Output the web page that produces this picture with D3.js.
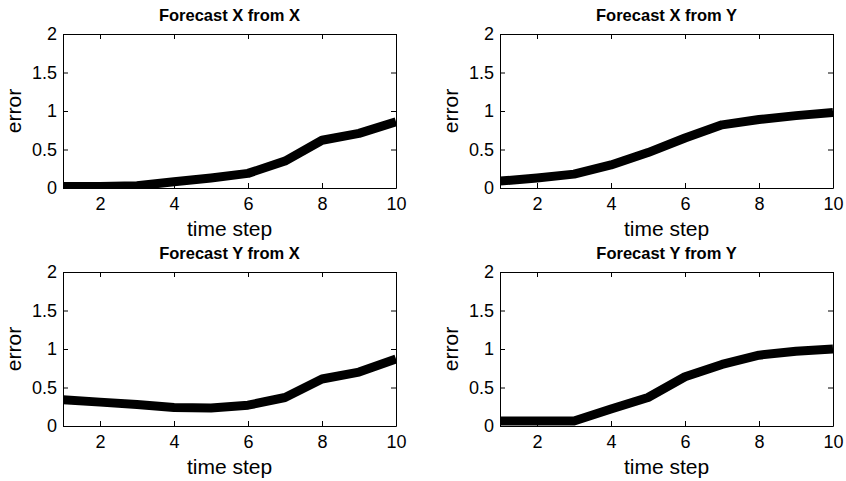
<!DOCTYPE html>
<html>
<head>
<meta charset="utf-8">
<script src="https://cdn.jsdelivr.net/npm/d3@7"></script>
<style>
  body { margin: 0; background: #fff; }
  text { font-family: 'Liberation Sans', Arial, sans-serif; fill: #000; }
  .title { font-weight: bold; font-size: 16.5px; }
  .tick text { font-size: 18px; }
  .label { font-size: 21px; }
</style>
</head>
<body>
<div id="chart"></div>
<script>
const timeSteps = [1, 2, 3, 4, 5, 6, 7, 8, 9, 10]
const xFromX = [0.02, 0.02, 0.03, 0.08, 0.13, 0.19, 0.35, 0.62, 0.71, 0.86]
const xFromY = [0.09, 0.13, 0.18, 0.3, 0.46, 0.65, 0.82, 0.89, 0.94, 0.98]
const yFromX = [0.34, 0.31, 0.28, 0.24, 0.235, 0.27, 0.37, 0.61, 0.7, 0.87]
const yFromY = [0.065, 0.065, 0.065, 0.22, 0.37, 0.64, 0.8, 0.92, 0.97, 1.0]
const titles = ['Forecast X from X', 'Forecast X from Y', 'Forecast Y from X', 'Forecast Y from Y']
const xTicks = [2, 4, 6, 8, 10]
const yTicks = [0, 0.5, 1, 1.5, 2]

const panels = [
  { left: 63, top: 34, title: titles[0], values: xFromX },
  { left: 500, top: 34, title: titles[1], values: xFromY },
  { left: 63, top: 272, title: titles[2], values: yFromX },
  { left: 500, top: 272, title: titles[3], values: yFromY }
]
const width = 333
const height = 154

const svg = d3
  .select('#chart')
  .append('svg')
  .attr('width', 846)
  .attr('height', 481)

const xPositionScale = d3.scaleLinear().domain([1, 10]).range([0, width])
const yPositionScale = d3.scaleLinear().domain([0, 2]).range([height, 0])

panels.forEach(function(p, i) {
  const g = svg
    .append('g')
    .attr('transform', 'translate(' + p.left + ',' + p.top + ')')

  g.append('clipPath')
    .attr('id', 'clip' + i)
    .append('rect')
    .attr('width', width)
    .attr('height', height)

  // axes: MATLAB style, ticks pointing inward on all four sides
  g.append('g')
    .attr('class', 'axis x-axis')
    .attr('transform', 'translate(0,' + height + ')')
    .call(d3.axisBottom(xPositionScale).tickValues(xTicks).tickSizeInner(-5).tickSizeOuter(0).tickPadding(9).tickFormat(d3.format('d')))
  g.append('g')
    .attr('class', 'axis x-axis-top')
    .call(d3.axisTop(xPositionScale).tickValues(xTicks).tickSizeInner(-5).tickSizeOuter(0).tickFormat(''))
  g.append('g')
    .attr('class', 'axis y-axis')
    .call(d3.axisLeft(yPositionScale).tickValues(yTicks).tickSizeInner(-5).tickSizeOuter(0).tickPadding(6).tickFormat(d3.format('')))
  g.append('g')
    .attr('class', 'axis y-axis-right')
    .attr('transform', 'translate(' + width + ',0)')
    .call(d3.axisRight(yPositionScale).tickValues(yTicks).tickSizeInner(-5).tickSizeOuter(0).tickFormat(''))

  g.selectAll('.axis path').attr('stroke', '#000').attr('stroke-width', 1)
  g.selectAll('.axis line').attr('stroke', '#000')

  const line = d3
    .line()
    .x((d, j) => xPositionScale(timeSteps[j]))
    .y(d => yPositionScale(d))

  g.append('path')
    .datum(p.values)
    .attr('d', line)
    .attr('fill', 'none')
    .attr('stroke', '#000')
    .attr('stroke-width', 9)
    .attr('stroke-linejoin', 'round')
    .attr('clip-path', 'url(#clip' + i + ')')

  g.append('text')
    .attr('class', 'title')
    .attr('x', width / 2)
    .attr('y', -13)
    .attr('text-anchor', 'middle')
    .text(p.title)

  g.append('text')
    .attr('class', 'label')
    .attr('x', width / 2)
    .attr('y', height + 48)
    .attr('text-anchor', 'middle')
    .text('time step')

  g.append('text')
    .attr('class', 'label')
    .attr('transform', 'translate(-42,' + height / 2 + ') rotate(-90)')
    .attr('text-anchor', 'middle')
    .text('error')
})
</script>
</body>
</html>
